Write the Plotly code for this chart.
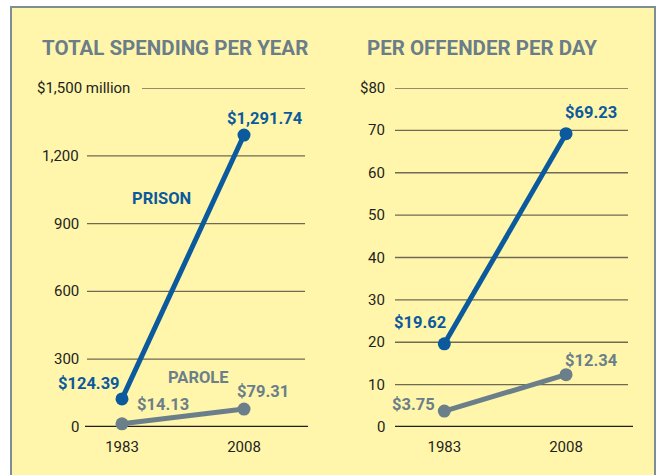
import plotly.graph_objects as go

W, H = 663, 475

years = [1983, 2008]
year_labels = ["1983", "2008"]

# Left panel: total spending per year ($ millions)
total_prison = [124.39, 1291.74]
total_parole = [14.13, 79.31]
total_ticks = [0, 300, 600, 900, 1200, 1500]
total_tick_labels = ["0", "300", "600", "900", "1,200", "$1,500 million"]

# Right panel: per offender per day ($)
day_prison = [19.62, 69.23]
day_parole = [3.75, 12.34]
day_ticks = [0, 10, 20, 30, 40, 50, 60, 70, 80]
day_tick_labels = ["0", "10", "20", "30", "40", "50", "60", "70", "$80"]

titles = ["TOTAL SPENDING PER YEAR", "PER OFFENDER PER DAY"]

BLUE = "#0b5a9e"
GRAY = "#6b7f8a"
TITLE_GRAY = "#6a7d88"
YELLOW = "#fff6ab"
BORDER = "#7f8e96"
GRID = "#6f6a55"
INK = "#231f20"
TICKFONT = "Roboto"
BOLDFONT = "Roboto"


def px(x):
    return x / W


def py(y):
    return 1 - y / H


fig = go.Figure()

line_kw = dict(mode="lines+markers", hoverinfo="skip", showlegend=False, cliponaxis=False)

fig.add_trace(go.Scatter(x=years, y=total_parole, line=dict(color=GRAY, width=5),
                         marker=dict(size=13, color=GRAY), xaxis="x", yaxis="y", **line_kw))
fig.add_trace(go.Scatter(x=years, y=total_prison, line=dict(color=BLUE, width=5),
                         marker=dict(size=13, color=BLUE), xaxis="x", yaxis="y", **line_kw))
fig.add_trace(go.Scatter(x=years, y=day_parole, line=dict(color=GRAY, width=5),
                         marker=dict(size=13, color=GRAY), xaxis="x2", yaxis="y2", **line_kw))
fig.add_trace(go.Scatter(x=years, y=day_prison, line=dict(color=BLUE, width=5),
                         marker=dict(size=13, color=BLUE), xaxis="x2", yaxis="y2", **line_kw))

ydom = [py(427), py(88)]
tickfont = dict(family=TICKFONT, size=15, color=INK)

xcommon = dict(tickvals=years, ticktext=year_labels, showgrid=False, zeroline=False,
               showline=False, ticks="", tickfont=tickfont, fixedrange=True,
               ticklabelstandoff=9)
ycommon = dict(showgrid=False, zeroline=False, showline=False, showticklabels=False,
               ticks="", domain=ydom, fixedrange=True)

fig.update_layout(
    width=W, height=H,
    margin=dict(l=0, r=0, t=0, b=0),
    paper_bgcolor="white",
    plot_bgcolor="rgba(0,0,0,0)",
    xaxis=dict(domain=[px(87), px(305)], range=[1975.83, 2020.5], anchor="y", **xcommon),
    yaxis=dict(range=[0, 1500], anchor="x", **ycommon),
    xaxis2=dict(domain=[px(395), px(628)], range=[1972.87, 2020.73], anchor="y2", **xcommon),
    yaxis2=dict(range=[0, 80], anchor="x2", **ycommon),
)

shapes = []
# yellow panel with border
shapes.append(dict(type="rect", xref="paper", yref="paper", x0=px(11), x1=px(655),
                   y0=-0.1, y1=py(7), fillcolor=YELLOW, line=dict(color=BORDER, width=2),
                   layer="below"))

# left gridlines
for v in total_ticks[1:]:
    x0 = 142 if v == total_ticks[-1] else 87
    shapes.append(dict(type="line", xref="paper", yref="y", x0=px(x0), x1=px(305), y0=v, y1=v,
                       line=dict(color=GRID, width=1.3), layer="below"))
shapes.append(dict(type="line", xref="paper", yref="y", x0=px(85), x1=px(308), y0=0, y1=0,
                   line=dict(color=INK, width=2.5), layer="below"))
# right gridlines
for v in day_ticks[1:]:
    shapes.append(dict(type="line", xref="paper", yref="y2", x0=px(395), x1=px(628), y0=v, y1=v,
                       line=dict(color=GRID, width=1.3), layer="below"))
shapes.append(dict(type="line", xref="paper", yref="y2", x0=px(395), x1=px(633), y0=0, y1=0,
                   line=dict(color=INK, width=2.5), layer="below"))
fig.update_layout(shapes=shapes)

ann = []
# y tick labels
for v, t in zip(total_ticks, total_tick_labels):
    ann.append(dict(x=px(132 if v == total_ticks[-1] else 81), xref="paper", y=v, yref="y",
                    text=t, showarrow=False, xanchor="right", yanchor="middle", font=tickfont))
for v, t in zip(day_ticks, day_tick_labels):
    ann.append(dict(x=px(387), xref="paper", y=v, yref="y2",
                    text=t, showarrow=False, xanchor="right", yanchor="middle", font=tickfont))

# titles
tfont = dict(family=BOLDFONT, size=20.5, color=TITLE_GRAY, weight="bold")
ann.append(dict(x=px(40), y=py(48), xref="paper", yref="paper", text=titles[0], showarrow=False,
                xanchor="left", yanchor="middle", font=tfont))
ann.append(dict(x=px(365), y=py(48), xref="paper", yref="paper", text=titles[1], showarrow=False,
                xanchor="left", yanchor="middle", font=tfont))


def lab(text, cx, cy, color):
    ann.append(dict(x=px(cx), y=py(cy), xref="paper", yref="paper", text=text, showarrow=False,
                    xanchor="center", yanchor="middle",
                    font=dict(family=BOLDFONT, size=16.5, color=color, weight="bold")))


def money(v):
    return "${:,.2f}".format(v)


lab(money(total_prison[1]), 265, 118, BLUE)
lab("PRISON", 161, 198, BLUE)
lab(money(total_prison[0]), 89, 383, BLUE)
lab("PAROLE", 198, 377, GRAY)
lab(money(total_parole[0]), 163, 404, GRAY)
lab(money(total_parole[1]), 263, 391, GRAY)
lab(money(day_prison[1]), 591, 112, BLUE)
lab(money(day_prison[0]), 420, 322, BLUE)
lab(money(day_parole[1]), 591, 360, GRAY)
lab(money(day_parole[0]), 413, 404, GRAY)

fig.update_layout(annotations=ann)

fig.write_html("out.html")
